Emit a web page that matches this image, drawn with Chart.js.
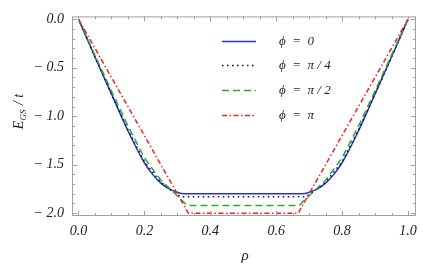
<!DOCTYPE html>
<html>
<head>
<meta charset="utf-8">
<script src="https://cdn.jsdelivr.net/npm/chart.js@4"></script>
<style>
  html, body { margin: 0; padding: 0; background: #fff; }
  canvas { display: block; }
</style>
</head>
<body>
<canvas id="grafico" width="444" height="272"></canvas>
<script>
// Datos
const rhoBlue = [0, 0.05, 0.1, 0.15, 0.2, 0.225, 0.25, 0.275, 0.3, 0.32, 0.68, 0.7, 0.725, 0.75, 0.775, 0.8, 0.85, 0.9, 0.95, 1];
const eBlue = [0, -0.39, -0.77, -1.15, -1.48, -1.6, -1.69, -1.75, -1.785, -1.8, -1.8, -1.785, -1.75, -1.69, -1.6, -1.48, -1.15, -0.77, -0.39, 0];

const rhoBlack = [0, 0.05, 0.1, 0.15, 0.2, 0.25, 0.28, 0.31, 0.69, 0.72, 0.75, 0.8, 0.85, 0.9, 0.95, 1];
const eBlack = [0, -0.39, -0.77, -1.14, -1.47, -1.68, -1.76, -1.83, -1.83, -1.76, -1.68, -1.47, -1.14, -0.77, -0.39, 0];

const rhoGreen = [0, 0.05, 0.1, 0.15, 0.2, 0.25, 0.3, 0.33, 0.67, 0.7, 0.75, 0.8, 0.85, 0.9, 0.95, 1];
const eGreen = [0, -0.37, -0.74, -1.1, -1.43, -1.66, -1.82, -1.92, -1.92, -1.82, -1.66, -1.43, -1.1, -0.74, -0.37, 0];

const rhoRed = [0, 1 / 3, 2 / 3, 1];
const eRed = [0, -2, -2, 0];

const seriesLabels = ["ϕ  =  0", "ϕ  =  π / 4", "ϕ  =  π / 2", "ϕ  =  π"];
const xTicks = [0, 0.2, 0.4, 0.6, 0.8, 1.0];
const yTicks = [0, -0.5, -1.0, -1.5, -2.0];

const serif = "'Liberation Serif', 'Times New Roman', serif";
const frameColor = "#a0a0a0";

function pares(xs, ys) {
    return xs.map((x, i) => ({ x: x, y: ys[i] }));
}

function fmt(v) {
    const s = Math.abs(v).toFixed(1);
    return v < -1e-9 ? "− " + s : s;
}

// Marco con marcas hacia dentro, titulos y leyenda
const marcoPlugin = {
    id: "marco",
    afterDatasetsDraw(chart) {
        const ctx = chart.ctx;
        const a = chart.chartArea;
        const xs = chart.scales.x;
        const ys = chart.scales.y;
        ctx.save();
        ctx.strokeStyle = frameColor;
        ctx.lineWidth = 1;
        ctx.strokeRect(a.left + 0.5, a.top + 0.5, a.right - a.left - 1, a.bottom - a.top - 1);

        ctx.beginPath();
        for (let i = 0; i <= 20; i++) {
            const v = i * 0.05;
            const px = Math.round(xs.getPixelForValue(v)) + 0.5;
            const len = (i % 4 === 0) ? 5 : 3;
            ctx.moveTo(px, a.bottom); ctx.lineTo(px, a.bottom - len);
            ctx.moveTo(px, a.top); ctx.lineTo(px, a.top + len);
        }
        for (let i = 0; i <= 20; i++) {
            const v = -i * 0.1;
            const py = Math.round(ys.getPixelForValue(v)) + 0.5;
            const len = (i % 5 === 0) ? 5 : 3;
            ctx.moveTo(a.left, py); ctx.lineTo(a.left + len, py);
            ctx.moveTo(a.right, py); ctx.lineTo(a.right - len, py);
        }
        ctx.stroke();

        // titulo eje x
        ctx.fillStyle = "#222";
        ctx.font = "italic 15px " + serif;
        ctx.textAlign = "center";
        ctx.textBaseline = "middle";
        ctx.fillText("ρ", (a.left + a.right) / 2 + 1, 256);

        // titulo eje y: E_GS / t
        ctx.translate(18, 112);
        ctx.rotate(-Math.PI / 2);
        const fBig = "italic 14px " + serif;
        const fSub = "italic 9px " + serif;
        ctx.font = fBig; const wE = ctx.measureText("E").width;
        ctx.font = fSub; const wS = ctx.measureText("GS").width;
        ctx.font = fBig; const wT = ctx.measureText(" / t").width;
        let x0 = -(wE + wS + wT) / 2;
        ctx.textAlign = "left";
        ctx.textBaseline = "alphabetic";
        ctx.font = fBig; ctx.fillText("E", x0, 5);
        ctx.font = fSub; ctx.fillText("GS", x0 + wE, 8);
        ctx.font = fBig; ctx.fillText(" / t", x0 + wE + wS + 1, 5);
        ctx.restore();

        // leyenda
        ctx.save();
        const rows = [41, 65, 90, 115];
        chart.data.datasets.forEach((ds, i) => {
            const y = rows[i] + 0.5;
            ctx.strokeStyle = ds.borderColor;
            ctx.lineWidth = ds.borderWidth;
            ctx.setLineDash(ds.borderDash || []);
            ctx.beginPath();
            ctx.moveTo(222, y); ctx.lineTo(256, y);
            ctx.stroke();
            ctx.fillStyle = "#222";
            ctx.font = "italic 13px " + serif;
            ctx.textAlign = "left";
            ctx.textBaseline = "middle";
            ctx.fillText(ds.label, 279, y);
        });
        ctx.restore();
    }
};

const ctx = document.getElementById("grafico").getContext("2d");

new Chart(ctx, {
    type: "line",
    data: {
        datasets: [
            { label: seriesLabels[0], data: pares(rhoBlue, eBlue), borderColor: "#2230dd", borderWidth: 1.5, order: 4, cubicInterpolationMode: "monotone" },
            { label: seriesLabels[1], data: pares(rhoBlack, eBlack), borderColor: "#111111", borderWidth: 1.5, borderDash: [1.5, 3.5], order: 3 },
            { label: seriesLabels[2], data: pares(rhoGreen, eGreen), borderColor: "#2fa82f", borderWidth: 1.5, borderDash: [7, 4], order: 2 },
            { label: seriesLabels[3], data: pares(rhoRed, eRed), borderColor: "#ee2222", borderWidth: 1.5, borderDash: [5, 2.5, 1.5, 2.5], order: 1 }
        ]
    },
    options: {
        responsive: false,
        animation: false,
        devicePixelRatio: 1,
        layout: { padding: { top: 5, right: 28, left: 0, bottom: 0 } },
        elements: { point: { radius: 0 }, line: { fill: false } },
        plugins: { legend: { display: false }, tooltip: { enabled: false } },
        scales: {
            x: {
                type: "linear",
                min: -0.0197,
                max: 1.0243,
                afterBuildTicks: s => { s.ticks = xTicks.map(v => ({ value: v })); },
                afterFit: s => { s.height = 56; },
                grid: { display: false, drawTicks: false },
                border: { display: false },
                ticks: {
                    callback: v => fmt(v),
                    autoSkip: false,
                    maxRotation: 0,
                    padding: 7,
                    color: "#222",
                    font: { family: serif, style: "italic", size: 14 }
                }
            },
            y: {
                type: "linear",
                min: -2.029,
                max: 0.029,
                afterBuildTicks: s => { s.ticks = yTicks.map(v => ({ value: v })); },
                afterFit: s => { s.width = 72; },
                grid: { display: false, drawTicks: false },
                border: { display: false },
                ticks: {
                    callback: v => fmt(v),
                    autoSkip: false,
                    padding: 8,
                    color: "#222",
                    font: { family: serif, style: "italic", size: 14 }
                }
            }
        }
    },
    plugins: [marcoPlugin]
});
</script>
</body>
</html>
